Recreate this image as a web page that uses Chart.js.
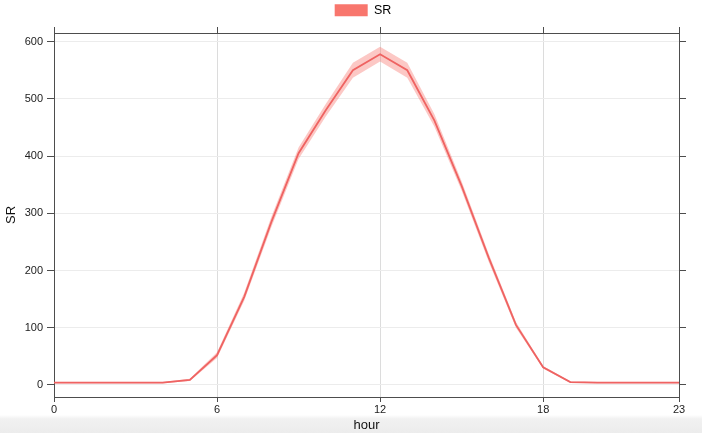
<!DOCTYPE html>
<html>
<head>
<meta charset="utf-8">
<script src="https://cdn.jsdelivr.net/npm/chart.js@4/dist/chart.umd.min.js"></script>
<style>
  html, body { margin: 0; padding: 0; }
  body {
    width: 702px; height: 433px; overflow: hidden;
    background: linear-gradient(to bottom, #fff 0, #fff 415px, #f1f1f1 419px, #ececec 433px);
  }
  #wrap { width: 702px; height: 433px; }
</style>
</head>
<body>
<div id="wrap"><canvas id="grafico"></canvas></div>
<script>
  // hora do dia e radiação solar média (SR) com intervalo de confiança
  const horas = [0, 1, 2, 3, 4, 5, 6, 7, 8, 9, 10, 11, 12, 13, 14, 15, 16, 17, 18, 19, 20, 21, 22, 23];
  const srMedia = [4, 4, 4, 4, 4, 9, 52, 154, 285, 405, 480, 550, 578, 550, 462, 348, 222, 105, 31, 5, 4, 4, 4, 4];
  const srInferior = [3, 3, 3, 3, 3, 7, 47, 147, 276, 395, 469, 537, 565, 537, 451, 340, 215, 100, 29, 4, 3, 3, 3, 3];
  const srSuperior = [5, 5, 5, 5, 5, 11, 57, 161, 294, 415, 491, 563, 591, 563, 473, 356, 229, 110, 33, 6, 5, 5, 5, 5];
  const ticksHora = [0, 6, 12, 18, 23];
  const ticksSR = [0, 100, 200, 300, 400, 500, 600];

  const LINHA = '#E9585A';
  const FAIXA = 'rgba(248, 118, 109, 0.4)';
  const LEGENDA = '#F8766D';
  const EIXO = '#4d4d4d';
  const FONTE = "'Liberation Sans', Arial, sans-serif";

  function pontos(valores) {
    return horas.map(function (h, i) { return { x: h, y: valores[i] }; });
  }
  function fixarTicks(valores) {
    return function (scale) { scale.ticks = valores.map(function (v) { return { value: v }; }); };
  }

  // empurra a legenda um pouco para a direita, como no original
  const deslocaLegenda = {
    id: 'deslocaLegenda',
    afterLayout: function (chart) {
      if (chart.legend) { chart.legend.left += 12; chart.legend.right += 12; }
    }
  };

  new Chart(document.getElementById('grafico'), {
    type: 'line',
    data: {
      datasets: [
        { label: 'inf', data: pontos(srInferior), borderWidth: 0, pointRadius: 0, fill: false },
        { label: 'sup', data: pontos(srSuperior), borderWidth: 0, pointRadius: 0, fill: '-1', backgroundColor: FAIXA },
        { label: 'SR', data: pontos(srMedia), borderColor: LINHA, backgroundColor: LEGENDA, borderWidth: 1.8, pointRadius: 0, fill: false }
      ]
    },
    options: {
      responsive: true, maintainAspectRatio: false, animation: false,
      layout: { padding: 0 },
      plugins: {
        tooltip: { enabled: false },
        legend: {
          position: 'top',
          labels: {
            boxWidth: 33, boxHeight: 12, padding: 4,
            color: '#222', font: { family: FONTE, size: 12.5 },
            generateLabels: function () {
              return [{ text: 'SR', fillStyle: LEGENDA, strokeStyle: LEGENDA, lineWidth: 0, hidden: false, datasetIndex: 2 }];
            }
          }
        }
      },
      scales: {
        x: {
          type: 'linear', position: 'bottom', min: 0, max: 23,
          afterBuildTicks: fixarTicks(ticksHora),
          afterFit: function (s) { s.height = 36; },
          ticks: { color: '#222', font: { family: FONTE, size: 11 }, padding: 1, maxRotation: 0 },
          grid: { color: '#dcdcdc', tickColor: EIXO, tickLength: 5 },
          border: { color: EIXO, width: 1 },
          title: { display: true, text: 'hour', color: '#111', font: { family: FONTE, size: 13 }, padding: { top: 0, bottom: 0 } }
        },
        x2: {
          type: 'linear', position: 'top', min: 0, max: 23,
          afterBuildTicks: fixarTicks(ticksHora),
          afterFit: function (s) { s.height = Math.max(2, 33 - s.chart.legend.height); },
          ticks: { display: false },
          grid: { drawOnChartArea: false, tickColor: EIXO, tickLength: 6 },
          border: { color: EIXO, width: 1 }
        },
        y: {
          type: 'linear', position: 'left', min: -21, max: 615,
          afterBuildTicks: fixarTicks(ticksSR),
          afterFit: function (s) { s.width = 54; },
          ticks: { color: '#222', font: { family: FONTE, size: 11 }, padding: 4 },
          grid: { color: '#ececec', tickColor: EIXO, tickLength: 7 },
          border: { color: EIXO, width: 1 },
          title: { display: true, text: 'SR', color: '#111', font: { family: FONTE, size: 13 }, padding: { top: 4, bottom: 0 } }
        },
        y2: {
          type: 'linear', position: 'right', min: -21, max: 615,
          afterBuildTicks: fixarTicks(ticksSR),
          afterFit: function (s) { s.width = 23; },
          ticks: { display: false },
          grid: { drawOnChartArea: false, tickColor: EIXO, tickLength: 7 },
          border: { color: EIXO, width: 1 }
        }
      }
    },
    plugins: [deslocaLegenda]
  });
</script>
</body>
</html>
